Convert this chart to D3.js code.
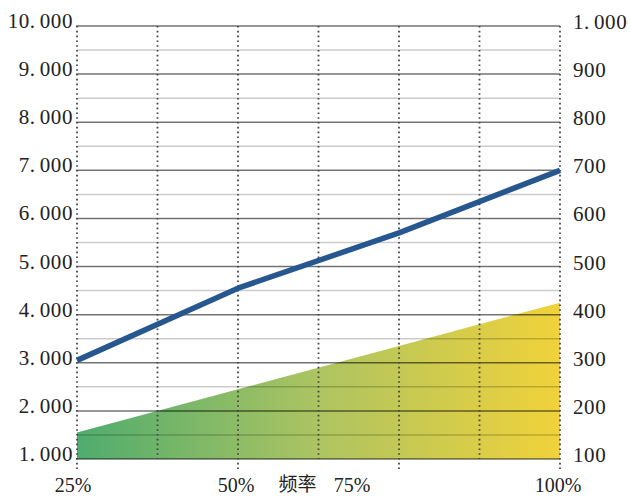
<!DOCTYPE html>
<html><head><meta charset="utf-8">
<script src="https://cdn.jsdelivr.net/npm/d3@7/dist/d3.min.js"></script>
<style>body{margin:0;background:#fff}svg{display:block}</style>
</head><body>
<svg id="c" width="630" height="497"></svg>
<script>
const categories = ["25%", "50%", "75%", "100%"];
const lineValues = [3050, 4550, 5700, 7000];     // left axis
const areaValues = [155, 245, 335, 425];        // right axis
const leftTicks = [1000,2000,3000,4000,5000,6000,7000,8000,9000,10000];
const rightTicks = [100,200,300,400,500,600,700,800,900,1000];
const axisTitle = "频率";

const svg = d3.select("#c");
const L = 77, R = 560, T = 26, B = 459;
const x = d3.scalePoint().domain(categories).range([L, R]);
const yL = d3.scaleLinear().domain([1000, 10000]).range([B, T]);
const yR = d3.scaleLinear().domain([100, 1000]).range([B, T]);
const fmt = v => d3.format(",")(v).replace(/,/g, ".");
const font = "'Liberation Serif','DejaVu Serif',serif";

const defs = svg.append("defs");
const grad = defs.append("linearGradient").attr("id", "g")
  .attr("gradientUnits", "userSpaceOnUse").attr("x1", L).attr("x2", R).attr("y1", 0).attr("y2", 0);
grad.append("stop").attr("offset", "0%").attr("stop-color", "#4fac6e");
grad.append("stop").attr("offset", "50%").attr("stop-color", "#adc461");
grad.append("stop").attr("offset", "100%").attr("stop-color", "#f1d23a");

// area
const area = d3.area().x((d, i) => x(categories[i])).y0(yR(100)).y1(d => yR(d));
svg.append("path").datum(areaValues).attr("d", area).attr("fill", "url(#g)");

// horizontal gridlines (minor at 500s, major at 1000s)
const minor = d3.range(1500, 10000, 1000);
svg.append("g").selectAll("line").data(minor).join("line")
  .attr("x1", L).attr("x2", R).attr("y1", d => yL(d)).attr("y2", d => yL(d))
  .attr("stroke", "#000").attr("stroke-opacity", 0.2).attr("stroke-width", 1.5);
svg.append("g").selectAll("line").data(leftTicks).join("line")
  .attr("x1", L - 1).attr("x2", R).attr("y1", d => yL(d)).attr("y2", d => yL(d))
  .attr("stroke", "#000").attr("stroke-opacity", 0.55).attr("stroke-width", 1.5);

// vertical dotted lines (at categories and midpoints)
const step = x.step();
const vpos = [];
categories.forEach((c, i) => {
  vpos.push({x: x(c), tick: true});
  if (i < categories.length - 1) vpos.push({x: x(c) + step / 2, tick: false});
});
svg.append("g").selectAll("line").data(vpos).join("line")
  .attr("x1", d => d.x).attr("x2", d => d.x)
  .attr("y1", T).attr("y2", d => d.tick ? B + 10 : B)
  .attr("stroke", "#444").attr("stroke-width", 1.8).attr("stroke-dasharray", "1.6,3.2");

// line
const line = d3.line().x((d, i) => x(categories[i])).y(d => yL(d));
svg.append("path").datum(lineValues).attr("d", line)
  .attr("fill", "none").attr("stroke", "#27578f").attr("stroke-width", 5.5).attr("stroke-linejoin", "round");

// number label with a wider gap after the separator
function numLabel(sel) {
  sel.each(function(d) {
    const s = fmt(d).split(".");
    const t = d3.select(this);
    s.forEach((part, i) => {
      t.append("tspan").attr("dx", i === 0 ? 0 : 4).text(part + (i < s.length - 1 ? "." : ""));
    });
  });
}
// left labels
svg.append("g").selectAll("text").data(leftTicks).join("text")
  .attr("x", 73).attr("y", d => yL(d) + 2).attr("text-anchor", "end")
  .attr("font-family", font).attr("font-size", 21).attr("fill", "#222")
  .attr("letter-spacing", 0.6)
  .call(numLabel);
// right labels
svg.append("g").selectAll("text").data(rightTicks).join("text")
  .attr("x", 573).attr("y", d => yR(d) + 3).attr("text-anchor", "start")
  .attr("font-family", font).attr("font-size", 21).attr("fill", "#222")
  .attr("letter-spacing", 0.6)
  .call(numLabel);

// bottom labels
const dx = {"25%": -4, "50%": -2, "75%": -47, "100%": -2};
svg.append("g").selectAll("text").data(categories).join("text")
  .attr("x", d => x(d) + dx[d]).attr("y", 492).attr("text-anchor", "middle")
  .attr("font-family", font).attr("font-size", 20).attr("fill", "#222")
  .text(d => d);
svg.append("text").attr("x", (L + R) / 2 - 21).attr("y", 491).attr("text-anchor", "middle")
  .attr("font-family", "'Noto Sans CJK SC',sans-serif").attr("font-size", 19).attr("fill", "#222")
  .text(axisTitle);
</script>
</body></html>
